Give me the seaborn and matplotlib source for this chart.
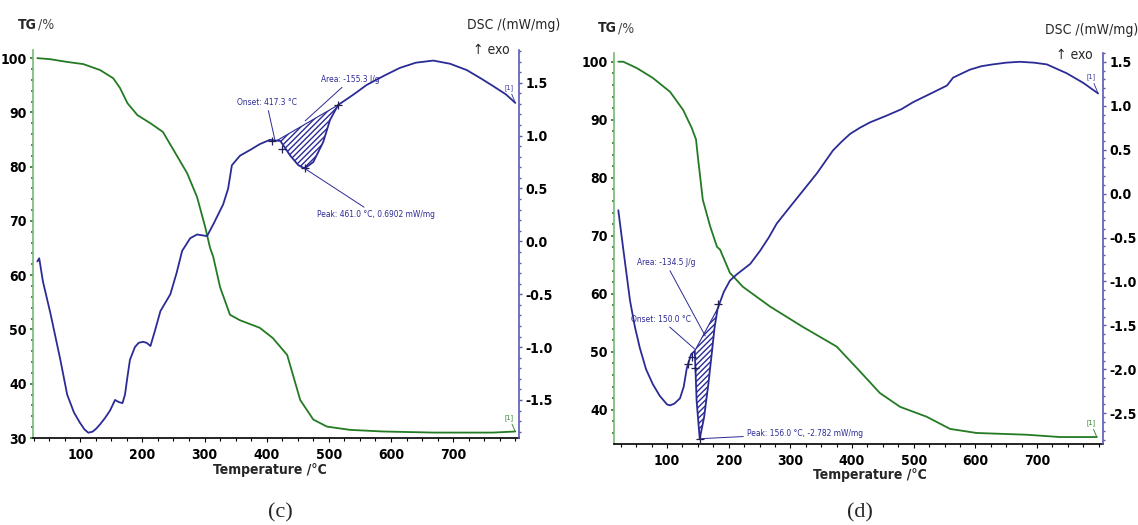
import numpy as np
import matplotlib
matplotlib.use('Agg')
import matplotlib.pyplot as plt
import matplotlib.font_manager as fm
import seaborn as sns
from matplotlib.ticker import MultipleLocator

sns.set_style('white')

# narrow sans like the instrument software, if one is around
_names = {f.name for f in fm.fontManager.ttflist}
_dv_cond = any(f.name == 'DejaVu Sans' and 'Condensed' in f.fname for f in fm.fontManager.ttflist)
if 'Liberation Sans Narrow' in _names:
    plt.rcParams['font.family'] = ['Liberation Sans Narrow', 'DejaVu Sans']
elif _dv_cond:
    plt.rcParams['font.family'] = ['DejaVu Sans']
    plt.rcParams['font.stretch'] = 'condensed'
else:
    plt.rcParams['font.family'] = ['Liberation Sans', 'DejaVu Sans']
plt.rcParams['axes.unicode_minus'] = False

GREEN = '#237a23'
GREEN_AX = '#78b878'
BLUE = '#2b2b96'
BLUE_AX = '#5a5ab4'

# ---- panel (c) ----
c_dsc_T = [31, 34, 40, 46, 52, 60, 68, 79, 90, 100, 107, 113, 120, 126, 132, 140, 148, 152,
           156, 162, 168, 172, 176, 180, 188, 194, 201, 207, 213, 220, 229, 237, 245, 255,
           264, 277, 288, 304, 314, 330, 338, 344, 357, 375, 389, 405, 422, 438, 451, 461,
           475, 491, 502, 515, 540, 561, 590, 614, 640, 668, 695, 722, 745, 764, 785, 800]
c_dsc = [-0.19, -0.16, -0.38, -0.53, -0.68, -0.90, -1.12, -1.45, -1.62, -1.72, -1.78, -1.81,
         -1.80, -1.77, -1.73, -1.67, -1.60, -1.55, -1.50, -1.52, -1.53, -1.45, -1.28, -1.12,
         -1.00, -0.96, -0.95, -0.96, -0.99, -0.85, -0.66, -0.58, -0.50, -0.30, -0.09, 0.03,
         0.065, 0.05, 0.16, 0.35, 0.50, 0.72, 0.81, 0.87, 0.92, 0.96, 0.95, 0.81, 0.72, 0.69,
         0.75, 0.94, 1.15, 1.29, 1.39, 1.48, 1.57, 1.64, 1.69, 1.71, 1.68, 1.62, 1.54, 1.47,
         1.39, 1.31]
c_tg_T = [31, 52, 79, 105, 132, 153, 164, 176, 192, 213, 233, 250, 272, 288, 301, 309, 314,
          325, 341, 357, 389, 410, 433, 454, 475, 497, 534, 587, 668, 764, 800]
c_tg = [100.0, 99.8, 99.3, 98.9, 97.8, 96.3, 94.5, 91.7, 89.5, 88.0, 86.4, 83.1, 78.8, 74.4,
        68.9, 65.0, 63.4, 57.8, 52.7, 51.7, 50.3, 48.4, 45.3, 37.0, 33.4, 32.1, 31.5, 31.2,
        31.0, 31.0, 31.2]
c_base_T = [417, 515]
c_base = [0.955, 1.29]
c_marks_T = [409, 425, 461, 515]
c_marks = [0.95, 0.87, 0.69, 1.29]

# ---- panel (d) ----
d_dsc_T = [21, 29, 40, 48, 56, 66, 77, 88, 100, 105, 112, 121, 127, 132, 139, 145, 148, 153,
           160, 167, 173, 177, 182, 192, 202, 213, 235, 251, 265, 278, 295, 311, 327, 343,
           369, 383, 397, 413, 429, 457, 480, 499, 531, 554, 564, 591, 610, 628, 650, 672,
           695, 716, 748, 775, 799]
d_dsc = [-0.19, -0.63, -1.22, -1.52, -1.76, -2.00, -2.17, -2.30, -2.40, -2.41, -2.39, -2.33,
         -2.20, -1.99, -1.83, -1.79, -2.36, -2.79, -2.55, -2.17, -1.79, -1.53, -1.31, -1.12,
         -0.99, -0.92, -0.80, -0.65, -0.50, -0.34, -0.19, -0.05, 0.09, 0.23, 0.49, 0.59, 0.68,
         0.75, 0.81, 0.89, 0.96, 1.04, 1.15, 1.23, 1.32, 1.41, 1.45, 1.47, 1.49, 1.50, 1.49,
         1.47, 1.37, 1.26, 1.14]
d_tg_T = [21, 29, 51, 77, 105, 126, 140, 147, 150, 158, 170, 181, 186, 202, 223, 267, 320,
          375, 413, 445, 478, 521, 559, 602, 683, 737, 797]
d_tg = [100.0, 100.0, 98.9, 97.2, 94.8, 91.7, 88.6, 86.6, 83.6, 76.2, 71.6, 68.1, 67.6, 63.6,
        61.2, 57.8, 54.3, 50.9, 46.6, 42.9, 40.5, 38.8, 36.7, 36.0, 35.7, 35.3, 35.3]
d_base_T = [145, 182]
d_base = [-1.79, -1.31]
d_marks_T = [134, 140, 145, 153, 183]
d_marks = [-1.94, -1.86, -1.99, -2.79, -1.26]


def panel(rect, tg_T, tg, dsc_T, dsc, base_T, base, marks_T, marks,
          xlim, tg_lim, tg_ticks, dsc_lim, dsc_ticks, notes):
    ax = fig.add_axes(rect)
    ax2 = ax.twinx()
    sns.lineplot(x=tg_T, y=tg, ax=ax, color=GREEN, lw=1.3)
    sns.lineplot(x=dsc_T, y=dsc, ax=ax2, color=BLUE, lw=1.3)

    # hatched peak area between the curve and the straight baseline
    T = np.array(dsc_T)
    sel = (T >= base_T[0]) & (T <= base_T[1])
    xs = T[sel]
    ys = np.array(dsc)[sel]
    bl = np.interp(xs, base_T, base)
    ax2.fill_between(xs, ys, bl, facecolor='none', edgecolor=BLUE, hatch='//////', lw=0)
    ax2.plot(base_T, base, color=BLUE, lw=0.8)
    ax2.plot(marks_T, marks, ls='none', marker='+', ms=6, mew=0.9, color='#202050')

    for txt, xy, xyt, ha in notes:
        ax2.annotate(txt, xy=xy, xytext=xyt, ha=ha, va='center', fontsize=6, color=BLUE,
                     arrowprops=dict(arrowstyle='-', color=BLUE, lw=0.7, shrinkA=0, shrinkB=0))

    ax.set_xlim(*xlim)
    ax.set_ylim(*tg_lim)
    ax2.set_ylim(*dsc_lim)
    ax.set_yticks(tg_ticks)
    ax2.set_yticks(dsc_ticks)
    ax2.set_yticklabels([f'{v:.1f}' for v in dsc_ticks])
    ax.set_xticks([100, 200, 300, 400, 500, 600, 700])
    ax.xaxis.set_minor_locator(MultipleLocator(25))
    ax.yaxis.set_minor_locator(MultipleLocator(2))
    ax2.yaxis.set_minor_locator(MultipleLocator(0.1))

    for a in (ax, ax2):
        a.spines['top'].set_visible(False)
        a.grid(False)
    ax.spines['left'].set_color(GREEN_AX)
    ax.spines['right'].set_visible(False)
    ax2.spines['left'].set_visible(False)
    ax2.spines['right'].set_color(BLUE_AX)
    ax.spines['bottom'].set_color('black')
    for sp in ('left', 'bottom'):
        ax.spines[sp].set_linewidth(1.2)
    ax2.spines['right'].set_linewidth(1.2)
    ax2.spines['bottom'].set_visible(False)

    ax.tick_params(axis='y', which='both', direction='out', colors=GREEN, labelcolor='black',
                   labelsize=10, left=True, length=2.5, width=1.2, pad=2)
    ax.tick_params(axis='y', which='minor', length=1.5)
    ax.tick_params(axis='x', which='both', direction='out', colors='black', labelsize=10,
                   bottom=True, length=3, width=0.8, pad=4)
    ax.tick_params(axis='x', which='minor', length=2)
    ax2.tick_params(axis='y', which='both', direction='out', colors=BLUE_AX, labelcolor='black',
                    labelsize=10, right=True, length=2.5, width=1.0, pad=2)
    ax2.tick_params(axis='y', which='minor', length=1.5)
    for lab in ax.get_xticklabels() + ax.get_yticklabels() + ax2.get_yticklabels():
        lab.set_fontweight('bold')
    ax.set_xlabel('')
    ax.set_ylabel('')
    ax2.set_ylabel('')
    return ax, ax2


W, H = 1138, 525
fig = plt.figure(figsize=(W / 100, H / 100), dpi=100)


def px(x, y):
    return x / W, 1 - y / H


notes_c = [
    ('Onset: 417.3 °C', (413, 0.965), (400, 1.31), 'center'),
    ('Area: -155.3 J/g', (462, 1.14), (535, 1.53), 'center'),
    ('Peak: 461.0 °C, 0.6902 mW/mg', (461, 0.69), (481, 0.25), 'left'),
]
ax_c, ax2_c = panel([33 / W, 87 / H, 486 / W, 388 / H], c_tg_T, c_tg, c_dsc_T, c_dsc,
                    c_base_T, c_base, c_marks_T, c_marks, (24, 806), (30, 101.5),
                    list(range(30, 101, 10)), (-1.86, 1.81), [-1.5, -1.0, -0.5, 0.0, 0.5, 1.0, 1.5],
                    notes_c)
ax2_c.annotate('[1]', xy=(800, 1.31), xytext=(790, 1.44), fontsize=5, color=BLUE, ha='center',
               arrowprops=dict(arrowstyle='-', color=BLUE, lw=0.6, shrinkA=0, shrinkB=0))
ax_c.annotate('[1]', xy=(800, 31.2), xytext=(790, 33.5), fontsize=5, color=GREEN, ha='center',
              arrowprops=dict(arrowstyle='-', color=GREEN, lw=0.6, shrinkA=0, shrinkB=0))

notes_d = [
    ('Area: -134.5 J/g', (162, -1.62), (98, -0.79), 'center'),
    ('Onset: 150.0 °C', (145, -1.77), (90, -1.43), 'center'),
    ('Peak: 156.0 °C, -2.782 mW/mg', (153, -2.79), (229, -2.73), 'left'),
]
ax_d, ax2_d = panel([614 / W, 81 / H, 489 / W, 391 / H], d_tg_T, d_tg, d_dsc_T, d_dsc,
                    d_base_T, d_base, d_marks_T, d_marks, (14, 807), (34.1, 101.5),
                    list(range(40, 101, 10)), (-2.85, 1.6),
                    [-2.5, -2.0, -1.5, -1.0, -0.5, 0.0, 0.5, 1.0, 1.5], notes_d)
ax2_d.annotate('[1]', xy=(799, 1.14), xytext=(788, 1.31), fontsize=5, color=BLUE, ha='center',
               arrowprops=dict(arrowstyle='-', color=BLUE, lw=0.6, shrinkA=0, shrinkB=0))
ax_d.annotate('[1]', xy=(797, 35.3), xytext=(787, 37.5), fontsize=5, color=GREEN, ha='center',
              arrowprops=dict(arrowstyle='-', color=GREEN, lw=0.6, shrinkA=0, shrinkB=0))

# axis titles placed like the instrument software does
for (tx, ty), (dx, dy), (ex, ey), (xx, xy_), (lx, ly), lab in [
        ((18, 25), (560, 25), (510, 50), (270, 470), (280, 513), '(c)'),
        ((598, 28), (1138, 30), (1093, 55), (870, 475), (860, 513), '(d)')]:
    fig.text(*px(tx, ty), 'TG', fontsize=10, fontweight='bold', va='center', ha='left')
    fig.text(*px(tx + 20, ty), '/%', fontsize=10, color='#444444', va='center', ha='left')
    fig.text(*px(dx, dy), 'DSC /(mW/mg)', fontsize=10, va='center', ha='right')
    fig.text(*px(ex, ey), '↑ exo', fontsize=10, va='center', ha='right')
    fig.text(*px(xx, xy_), 'Temperature /°C', fontsize=10, fontweight='bold', va='center',
             ha='center')
    fig.text(*px(lx, ly), lab, fontsize=16, family='Liberation Serif', stretch='normal',
             va='center', ha='center')

fig.savefig('out.png', dpi=100)
